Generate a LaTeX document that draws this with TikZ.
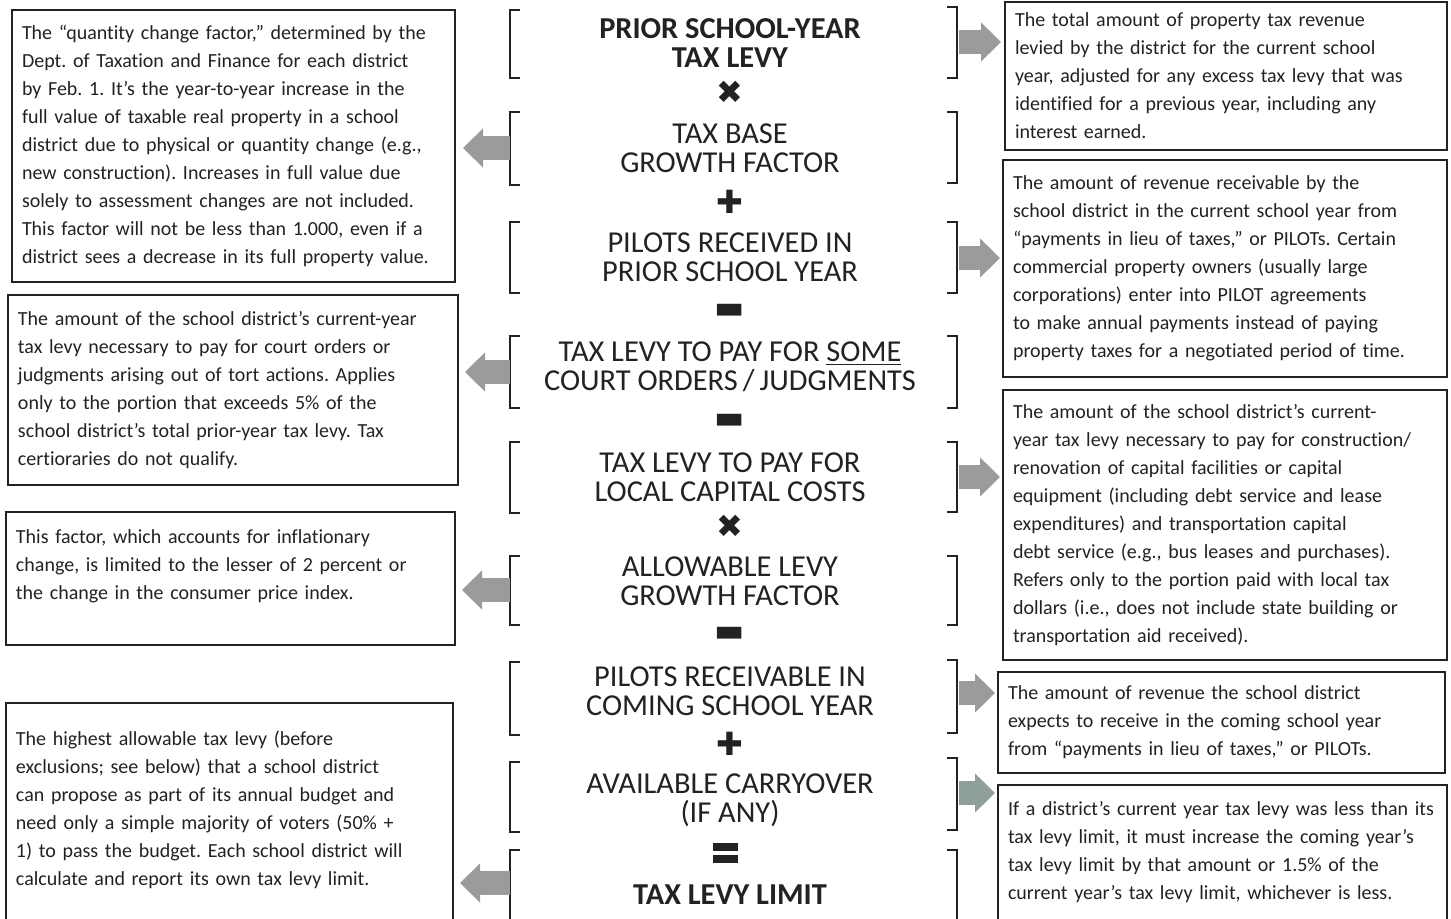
\documentclass[tikz,border=0pt]{standalone}
\usepackage{fontspec}
\setmainfont{Carlito}[Ligatures=NoCommon]
\newfontfamily\opfont{DejaVu Sans}
\usetikzlibrary{arrows.meta,calc}
\definecolor{ink}{HTML}{222222}
\definecolor{arrowgray}{HTML}{9B9B9B}
\definecolor{arrowsage}{HTML}{8FA09A}
\frenchspacing

\begin{document}
\begin{tikzpicture}[x=0.5pt,y=-0.5pt,
    term/.style={align=center,inner sep=1pt,font=\fontsize{15.2}{14.5}\selectfont,text=ink},
    op/.style={align=center,inner sep=0pt,font=\opfont\fontsize{16}{6.5}\selectfont,text=ink},
    note/.style={draw=ink,line width=1pt,align=left,inner xsep=5pt,inner ysep=0pt,
        font=\fontsize{10}{14}\selectfont,text=ink},
    brace/.style={draw=ink,line width=1pt},
    fat/.style={draw=arrowgray,line width=12pt,-{Triangle[width=19pt,length=10pt]}}]
\clip (0,0) rectangle (1451,919);
\fill[white] (0,0) rectangle (1451,919);

% the formula
\node[term] (t1) at (730,43) {\textbf{PRIOR SCHOOL-YEAR}\\\textbf{TAX LEVY}};
\node[op] (o1) at (730,92) {✖};
\node[term] (t2) at (730,148) {TAX BASE\\GROWTH FACTOR};
\node[op] (o2) at (730,202) {✚};
\node[term] (t3) at (730,257) {PILOTS RECEIVED IN\\PRIOR SCHOOL YEAR};
\node[op] (o3) at (730,311) {▬};
\node[term] (t4) at (730,367) {TAX LEVY TO PAY FOR \underline{SOME}\\COURT ORDERS\,/\,JUDGMENTS};
\node[op] (o4) at (730,421) {▬};
\node[term] (t5) at (730,477) {TAX LEVY TO PAY FOR\\LOCAL CAPITAL COSTS};
\node[op] (o5) at (730,526) {✖};
\node[term] (t6) at (730,581) {ALLOWABLE LEVY\\GROWTH FACTOR};
\node[op] (o6) at (730,634) {▬};
\node[term] (t7) at (730,691) {PILOTS RECEIVABLE IN\\COMING SCHOOL YEAR};
\node[op] (o7) at (730,744) {✚};
\node[term] (t8) at (730,800) {AVAILABLE CARRYOVER\\(IF ANY)};
\node[op,minimum width=12.5pt,minimum height=10pt] (o8) at (726,853) {};
\fill[ink] (o8.north west) rectangle ++(25,8);
\fill[ink] (o8.south west) rectangle ++(25,-8);
\node[term] (t9) at (730,895) {\textbf{TAX LEVY LIMIT}};

% brackets
\foreach \n/\ya/\yb/\ym in {1/10/78/44,2/112/185/148,3/222/293/257,4/336/408/372,
    5/442/513/477,6/556/625/590,7/662/735/698,8/762/832/797,9/850/940/883}{
  \draw[brace] (520,\ya) -- (510,\ya) -- (510,\yb) -- (520,\yb);
  \coordinate (lb\n) at (510,\ym);
}
\foreach \n/\ya/\yb/\ym in {1/7/78/42,2/112/183/148,3/222/293/258,4/336/408/372,
    5/442/512/477,6/556/625/590,7/660/733/693,8/758/830/793,9/850/940/883}{
  \draw[brace] (947,\ya) -- (957,\ya) -- (957,\yb) -- (947,\yb);
  \coordinate (rb\n) at (959,\ym);
}

% notes on the left
\node[note,text width=211.5pt,minimum height=136pt] (l1) at (233.5,146) {The “quantity change factor,” determined by the\\
Dept. of Taxation and Finance for each district\\
by Feb. 1. It’s the year-to-year increase in the\\
full value of taxable real property in a school\\
district due to physical or quantity change (e.g.,\\
new construction). Increases in full value due\\
solely to assessment changes are not included.\\
This factor will not be less than 1.000, even if a\\
district sees a decrease in its full property value.};
\node[note,text width=215pt,minimum height=95pt] (l2) at (233,390) {The amount of the school district’s current-year\\
tax levy necessary to pay for court orders or\\
judgments arising out of tort actions. Applies\\
only to the portion that exceeds 5\% of the\\
school district’s total prior-year tax levy. Tax\\
certioraries do not qualify.};
\node[note,text width=214.5pt,minimum height=66.5pt] (l3) at (230.5,578.5) {This factor, which accounts for inflationary\\
change, is limited to the lesser of 2 percent or\\
the change in the consumer price index.\\\mbox{}};
\node[note,text width=213.5pt,minimum height=119pt] (l4) at (229.5,822) {The highest allowable tax levy (before\\
exclusions; see below) that a school district\\
can propose as part of its annual budget and\\
need only a simple majority of voters (50\% +\\
1) to pass the budget. Each school district will\\
calculate and report its own tax levy limit.\\\mbox{}};

% notes on the right
\node[note,text width=211pt,minimum height=74pt] (r1) at (1226,76) {The total amount of property tax revenue\\
levied by the district for the current school\\
year, adjusted for any excess tax levy that was\\
identified for a previous year, including any\\
interest earned.};
\node[note,text width=212pt,minimum height=108.5pt] (r2) at (1225,268.5) {The amount of revenue receivable by the\\
school district in the current school year from\\
“payments in lieu of taxes,” or PILOTs. Certain\\
commercial property owners (usually large\\
corporations) enter into PILOT agreements\\
to make annual payments instead of paying\\
property taxes for a negotiated period of time.};
\node[note,text width=212pt,minimum height=135pt] (r3) at (1225,525) {The amount of the school district’s current-\\
year tax levy necessary to pay for construction/\\
renovation of capital facilities or capital\\
equipment (including debt service and lease\\
expenditures) and transportation capital\\
debt service (e.g., bus leases and purchases).\\
Refers only to the portion paid with local tax\\
dollars (i.e., does not include state building or\\
transportation aid received).};
\node[note,text width=213.5pt,minimum height=50.5pt] (r4) at (1221.5,722.5) {The amount of revenue the school district\\
expects to receive in the coming school year\\
from “payments in lieu of taxes,” or PILOTs.};
\node[note,text width=214.5pt,minimum height=79pt] (r5) at (1222.5,864) {If a district’s current year tax levy was less than its\\
tax levy limit, it must increase the coming year’s\\
tax levy limit by that amount or 1.5\% of the\\
current year’s tax levy limit, whichever is less.\\\mbox{}};

% arrows
\draw[fat,shorten >=3.5pt] (lb2) -- (lb2 -| l1.east);
\draw[fat,shorten >=3pt] (lb4) -- (lb4 -| l2.east);
\draw[fat,shorten >=3pt] (lb6) -- (lb6 -| l3.east);
\draw[fat,shorten >=3pt] (lb9) -- (lb9 -| l4.east);
\draw[fat,shorten >=1.5pt] (rb1) -- (rb1 -| r1.west);
\draw[fat,shorten >=1pt] (rb3) -- (rb3 -| r2.west);
\draw[fat,shorten >=1pt] (rb5) -- (rb5 -| r3.west);
\draw[fat,shorten >=1pt] (rb7) -- (rb7 -| r4.west);
\draw[fat,draw=arrowsage,shorten >=1pt] (rb8) -- (rb8 -| r5.west);
\end{tikzpicture}
\end{document}
